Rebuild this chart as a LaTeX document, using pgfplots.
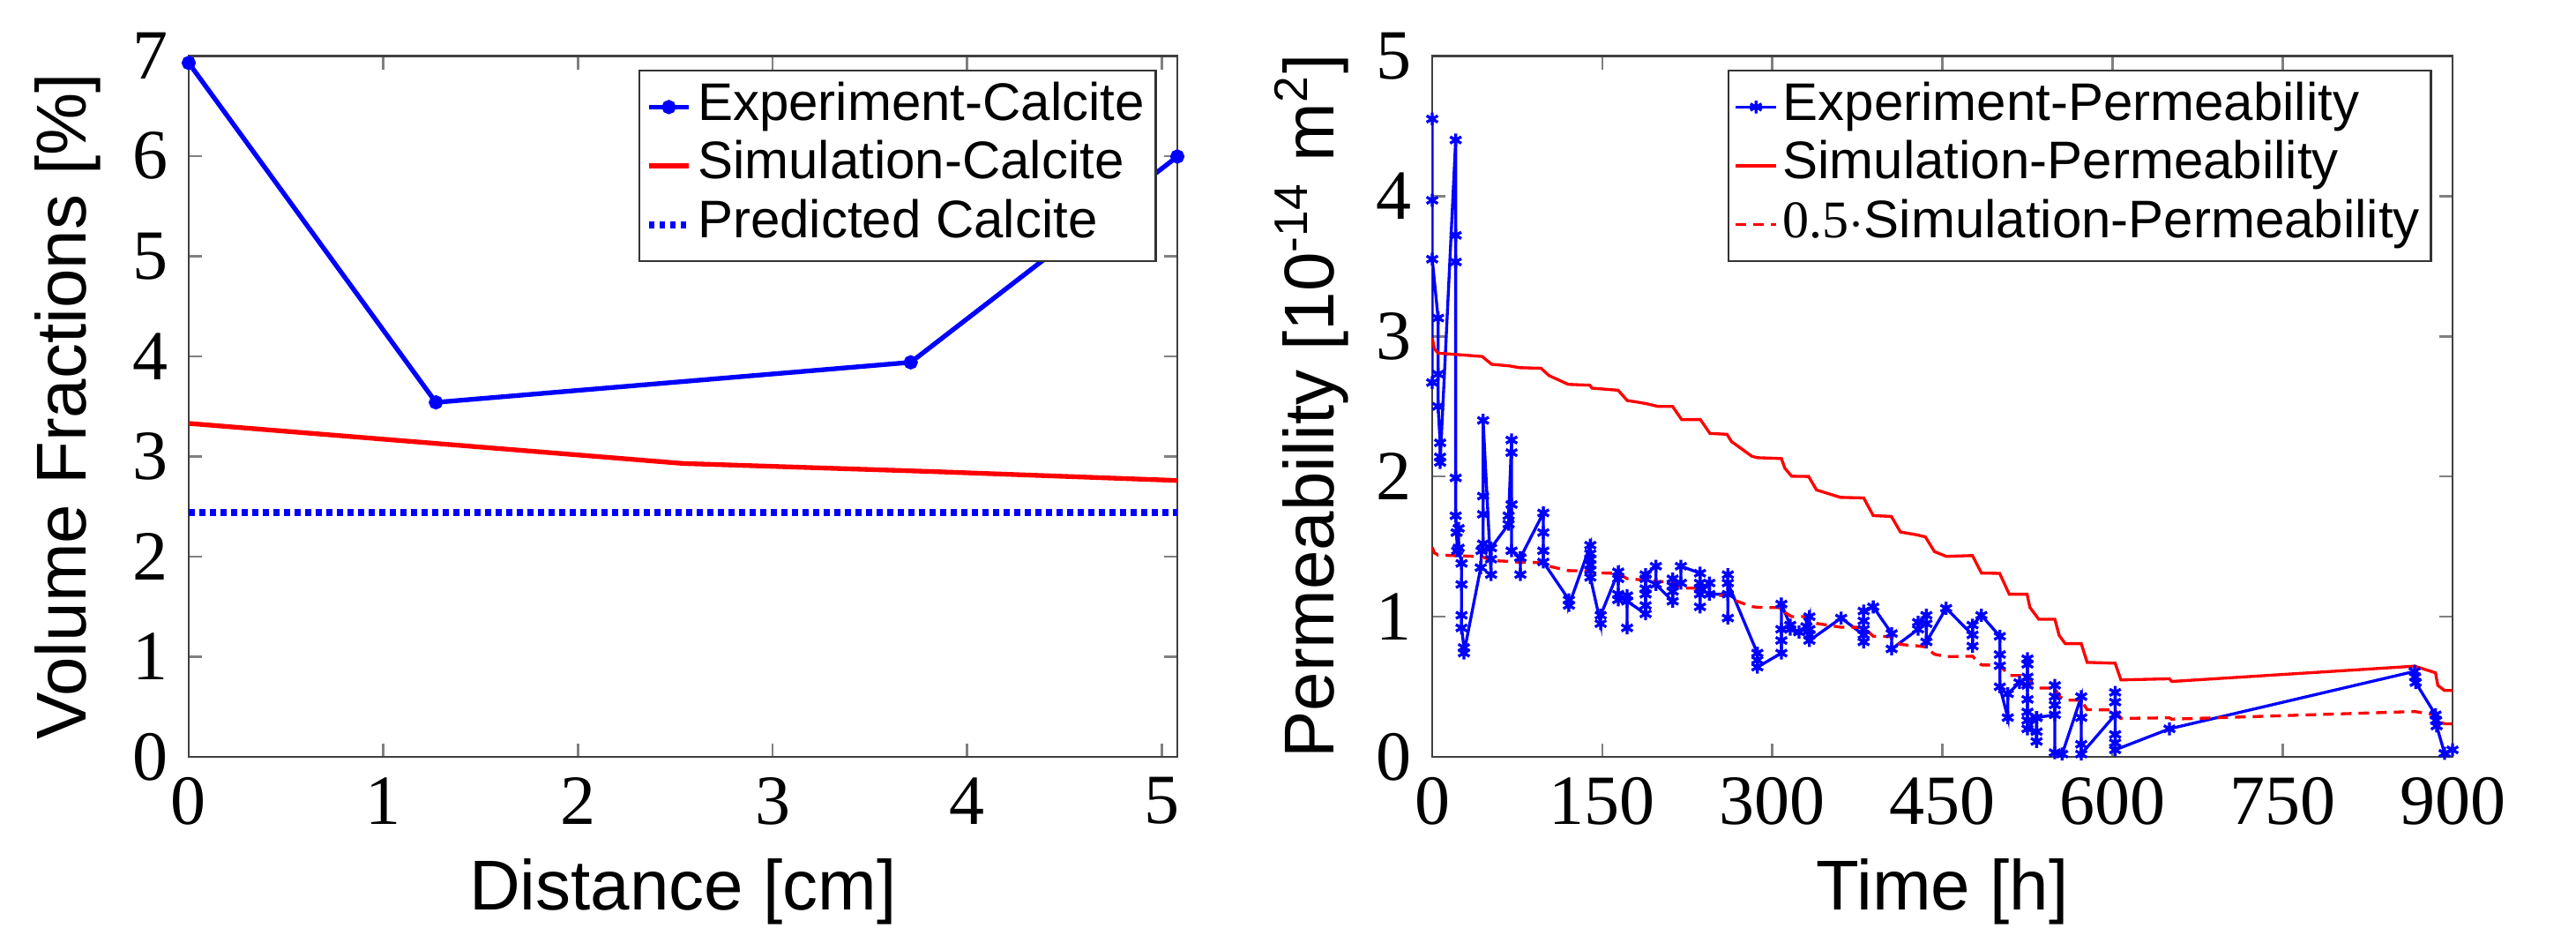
\documentclass[border=0pt]{standalone}
\usepackage{fontspec}
\setmainfont{Liberation Serif}
\setsansfont{Liberation Sans}
\usepackage{pgfplots}
\pgfplotsset{compat=1.18}

\pgfplotsset{
  panel/.style={
    scale only axis,
    anchor=south west,
    height=119.2pt,
    ymin=0,
    axis line style={black!75},
    tick style={black!50, line width=0.4pt},
    major tick length=2.3pt,
    /pgf/number format/assume math mode=true,
    ticklabel style={font=\fontsize{12}{14}\rmfamily},
    label style={font=\fontsize{12}{14}\sffamily},
    xlabel style={at={(axis description cs:0.5,0)}, anchor=base, yshift=-26pt},
    legend cell align=left,
    legend image code/.code={
      \draw[mark repeat=2, mark phase=2, ##1] plot coordinates {(0cm,0cm) (0.12cm,0cm) (0.24cm,0cm)};
    },
    legend style={at={(1,1)}, anchor=north east, xshift=-3.45pt, yshift=-2.3pt,
      font=\fontsize{9}{10}\sffamily, draw=black!80, inner xsep=1pt, inner ysep=1.2pt,
      row sep=0pt, nodes={inner sep=0.9pt, text height=6.3pt, text depth=1.9pt}},
  },
}

\begin{document}
\begin{tikzpicture}
\path[use as bounding box] (-32.1pt,-28.95pt) rectangle (406.05pt,128.7pt);

% left: calcite volume fraction along the core
\begin{axis}[
  panel,
  at={(0pt,0pt)},
  width=168.15pt,
  xmin=0, xmax=5.08,
  ymax=7,
  xtick={0,1,2,3,4,5},
  ytick={0,1,2,3,4,5,6,7},
  xlabel={Distance [cm]},
  ylabel={Volume Fractions [\%]},
  ylabel style={at={(axis description cs:-0.1036,0.5)}, anchor=base},
]
\addplot[blue, line width=0.8pt, mark=*, mark size=0.8pt] coordinates {
  (0,6.93) (1.27,3.54) (3.71,3.94) (5.08,5.995)
};
\addlegendentry{Experiment-Calcite}
\addplot[red, line width=0.8pt] coordinates {
  (0,3.33) (1.27,3.13) (2.54,2.93) (3.81,2.85) (5.08,2.76)
};
\addlegendentry{Simulation-Calcite}
\addplot[blue, line width=1.2pt, dash pattern=on 1pt off 0.8pt] coordinates {
  (0,2.44) (5.08,2.44)
};
\addlegendentry{Predicted Calcite}
\end{axis}

% right: permeability over time
\begin{axis}[
  panel,
  at={(211.5pt,0pt)},
  width=173.55pt,
  xmin=0, xmax=900,
  ymax=5,
  xtick={0,150,300,450,600,750,900},
  ytick={0,1,2,3,4,5},
  xlabel={Time [h]},
  ylabel={Permeability [10\textsuperscript{-14} m\textsuperscript{2}]},
  ylabel style={at={(axis description cs:-0.0968,0.5)}, anchor=base},
]
\addplot[blue, line width=0.5pt, mark=asterisk, mark size=1.1pt] coordinates {
  (0,2.67) (0,4.55) (0,3.97) (0,3.55)
  (5.2,3.13) (5.2,2.73) (5.2,2.50) (7,2.24) (7,2.14) (7,2.10)
  (20.7,4.40) (20.7,3.72) (20.7,3.53) (20.7,1.99) (20.7,1.72) (21.5,1.60) (22,1.47)
  (23.3,1.63) (23.3,1.49) (25.9,1.38) (25.9,1.23) (25.9,1.01) (25.9,0.92) (28,0.78) (28,0.74)
  (42.8,1.35) (43.5,1.47) (44.9,1.52) (44.9,1.73) (44.9,1.86) (44.9,2.40)
  (51.9,1.30) (51.9,1.41) (51.9,1.49)
  (67.4,1.66) (67.4,1.72) (70,2.26) (70,2.17) (70,1.80) (70,1.47)
  (77.8,1.42) (77.8,1.30) (77.8,1.42)
  (98,1.74) (98,1.60) (98,1.47) (98,1.39)
  (120.6,1.12) (120.6,1.08)
  (139.5,1.51) (139.5,1.45) (139.5,1.41) (139.5,1.37) (139.5,1.33) (139.5,1.28)
  (148.6,0.95) (148.6,1.01)
  (164.1,1.32) (164.1,1.27) (164.1,1.16) (164.1,1.12)
  (171.9,1.15) (171.9,0.92) (171.9,1.11)
  (188.2,1.02) (188.2,1.08) (188.2,1.16) (188.2,1.20) (188.2,1.27) (188.2,1.30)
  (197.3,1.36) (197.3,1.23)
  (212.1,1.11) (212.1,1.18) (212.1,1.22) (212.1,1.27)
  (219.4,1.24) (219.4,1.36)
  (236.2,1.31) (236.2,1.24) (236.2,1.20) (236.2,1.07) (236.2,1.16)
  (244.5,1.24) (244.5,1.16)
  (260.8,1.16) (260.8,0.99) (260.8,1.30) (260.8,1.24)
  (286.8,0.74) (286.8,0.69) (286.8,0.64)
  (308,0.74) (308,0.83) (308,0.91) (308,1.09)
  (315.8,0.94) (315.8,0.91)
  (323.6,0.89) (330.1,0.93) (332.7,1.00) (332.7,0.91) (332.7,0.87) (332.7,0.83)
  (360.7,0.99)
  (380.6,0.87) (380.6,0.82) (380.6,0.91) (380.6,0.97) (380.6,1.04)
  (389,1.07)
  (405.3,0.88) (405.3,0.77)
  (428.6,0.91) (428.6,0.96)
  (435.9,1.01) (435.9,0.95) (435.9,0.82)
  (453.3,1.06)
  (476.6,0.87) (476.6,0.79) (476.6,0.94)
  (484.4,1.01)
  (500.7,0.86) (500.7,0.73) (500.7,0.65) (500.7,0.50)
  (507.7,0.28) (507.7,0.45) (518,0.53)
  (525.1,0.51) (525.1,0.70) (525.1,0.66) (525.1,0.57) (525.1,0.41) (525.1,0.32) (525.1,0.26) (525.1,0.20)
  (533.1,0.28) (533.1,0.18) (533.1,0.11) (533.1,0.28)
  (549.2,0.30) (549.2,0.37) (549.2,0.43) (549.2,0.51) (549.2,0.03)
  (555.7,0.02)
  (572.5,0.43) (572.5,0.28) (572.5,0.09) (572.5,0.02)
  (602.4,0.30) (602.4,0.39) (602.4,0.46) (602.4,0.16) (602.4,0.10) (602.4,0.05)
  (650.3,0.20)
  (866.6,0.61) (867,0.57) (867.5,0.53)
  (885,0.30) (885.5,0.26) (886,0.22)
  (893,0.025) (900,0.05)
};
\addlegendentry{Experiment-Permeability}
\addplot[red, line width=0.5pt] coordinates {
  (0,2.99) (2,2.91) (5,2.88) (44,2.856) (52.5,2.80) (68,2.789) (77,2.776) (96,2.772)
  (103,2.72) (120,2.657) (139,2.651) (141,2.63) (164,2.615) (172,2.542) (188,2.521)
  (199,2.50) (212,2.50) (220,2.406) (236.5,2.406) (245,2.307) (260,2.301) (264,2.249)
  (282,2.144) (287,2.134) (308,2.128) (311,2.06) (317,2.002) (332,2.0) (339,1.904)
  (360,1.851) (380.6,1.847) (389,1.721) (405,1.715) (413,1.604) (428,1.583) (435,1.569)
  (443,1.464) (453.5,1.43) (476.5,1.436) (484.5,1.311) (500.5,1.309) (509,1.16)
  (524.7,1.16) (527.2,1.066) (535,0.982) (549.2,0.982) (553,0.867) (558.3,0.808)
  (572.5,0.808) (577.7,0.674) (602.4,0.668) (607.5,0.549) (650.3,0.557) (652.4,0.538)
  (866.6,0.647) (885,0.60) (887,0.51) (893,0.473) (900,0.473)
};
\addlegendentry{Simulation-Permeability}
\addplot[red, line width=0.5pt, dash pattern=on 1.8pt off 1.2pt] coordinates {
  (0,1.495) (2,1.455) (5,1.44) (44,1.428) (52.5,1.40) (68,1.3945) (77,1.388) (96,1.386)
  (103,1.36) (120,1.3285) (139,1.3255) (141,1.315) (164,1.3075) (172,1.271) (188,1.2605)
  (199,1.25) (212,1.25) (220,1.203) (236.5,1.203) (245,1.1535) (260,1.1505) (264,1.1245)
  (282,1.072) (287,1.067) (308,1.064) (311,1.03) (317,1.001) (332,1.0) (339,0.952)
  (360,0.9255) (380.6,0.9235) (389,0.8605) (405,0.8575) (413,0.802) (428,0.7915) (435,0.7845)
  (443,0.732) (453.5,0.715) (476.5,0.718) (484.5,0.6555) (500.5,0.6545) (509,0.58)
  (524.7,0.58) (527.2,0.533) (535,0.491) (549.2,0.491) (553,0.4335) (558.3,0.404)
  (572.5,0.404) (577.7,0.337) (602.4,0.334) (607.5,0.2745) (650.3,0.2785) (652.4,0.269)
  (866.6,0.3235) (885,0.30) (887,0.255) (893,0.2365) (900,0.2365)
};
\addlegendentry{{\rmfamily 0.5}$\cdot$Simulation-Permeability}
\end{axis}
\end{tikzpicture}
\end{document}
